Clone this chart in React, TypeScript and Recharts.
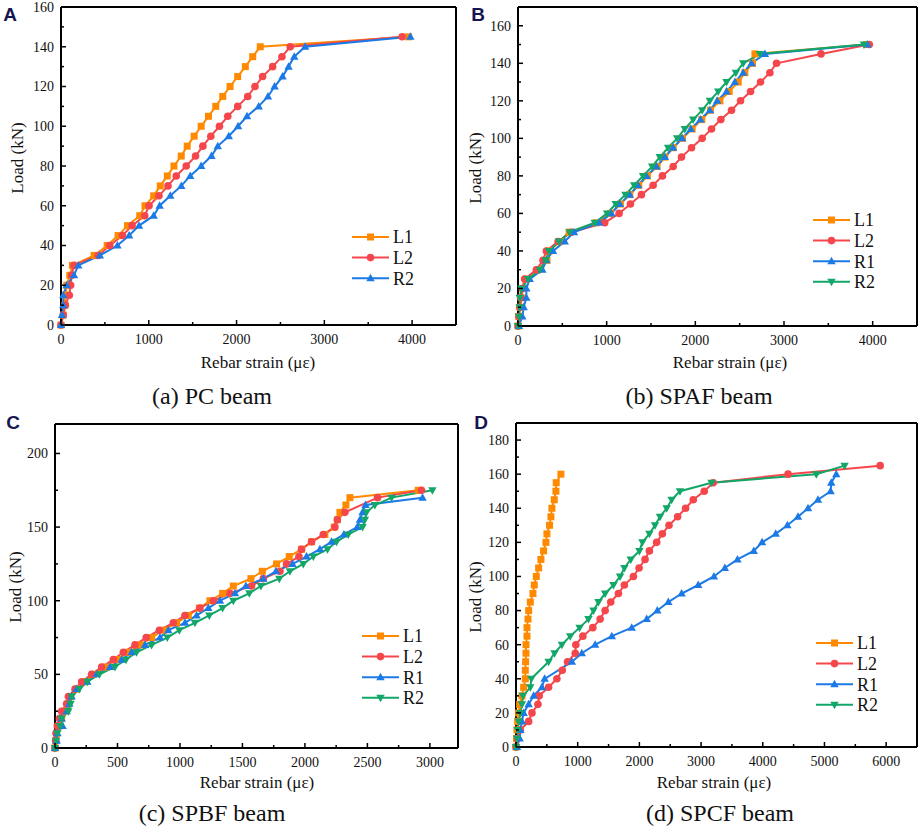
import { LineChart, Line, XAxis, YAxis, ReferenceLine, Legend } from "recharts"

const SERIF = '"Liberation Serif", "Times New Roman", serif'
const SANS = '"Liberation Sans", Arial, sans-serif'

const colors = { L1: "#ff8a00", L2: "#f5474b", R1: "#1b7ae6", R2: "#12a668" }

// (a) PC beam
const loadA = [0, 5, 10, 15, 20, 25, 30, 35, 40, 45, 50, 55, 60, 65, 70, 75, 80, 85, 90, 95, 100, 105, 110, 115, 120, 125, 130, 135, 140, 145]
const strainA_L1 = [0, 26, 45, 50, 65, 100, 130, 378, 526, 651, 757, 897, 957, 1056, 1131, 1211, 1287, 1370, 1438, 1517, 1597, 1680, 1763, 1843, 1926, 2013, 2100, 2184, 2270, 3960]
const strainA_L2 = [0, 26, 49, 95, 110, 121, 148, 424, 556, 700, 810, 954, 1003, 1116, 1219, 1313, 1427, 1533, 1616, 1707, 1805, 1900, 2013, 2127, 2210, 2297, 2411, 2517, 2611, 3886]
const strainA_R2 = [0, 11, 26, 26, 64, 148, 197, 443, 643, 776, 889, 1056, 1124, 1245, 1370, 1472, 1597, 1714, 1786, 1911, 2017, 2119, 2252, 2358, 2433, 2524, 2592, 2657, 2781, 3980]

// (b) SPAF beam
const loadB = [0, 5, 10, 15, 20, 25, 30, 35, 40, 45, 50, 55, 60, 65, 70, 75, 80, 85, 90, 95, 100, 105, 110, 115, 120, 125, 130, 135, 140, 145, 150]
const strainB_L1 = [0, 8, 26, 38, 56, 94, 226, 327, 350, 470, 576, 884, 1042, 1155, 1261, 1362, 1460, 1569, 1656, 1750, 1855, 1964, 2073, 2171, 2277, 2382, 2484, 2559, 2645, 2672, 3932]
const strainB_L2 = [0, 11, 19, 30, 49, 75, 207, 282, 320, 452, 602, 978, 1140, 1268, 1392, 1524, 1629, 1750, 1844, 1957, 2077, 2182, 2288, 2408, 2510, 2623, 2736, 2841, 2916, 3417, 3962]
const strainB_R1 = [11, 49, 64, 94, 94, 132, 275, 320, 395, 527, 632, 914, 1054, 1148, 1261, 1355, 1449, 1562, 1656, 1750, 1851, 1949, 2058, 2164, 2246, 2352, 2446, 2540, 2634, 2785, 3940]
const strainB_R2 = [0, 11, 19, 19, 38, 113, 245, 312, 350, 463, 583, 865, 1005, 1102, 1212, 1310, 1411, 1513, 1599, 1693, 1795, 1881, 1976, 2077, 2164, 2258, 2352, 2457, 2540, 2728, 3902]

// (c) SPBF beam
const loadC = [0, 5, 10, 15, 20, 25, 30, 35, 40, 45, 50, 55, 60, 65, 70, 75, 80, 85, 90, 95, 100, 105, 110, 115, 120, 125, 130, 135, 140, 145, 150, 155, 160, 165, 170, 175]
const loadC_L2 = [0, 5, 10, 15, 20, 25, 30, 35, 40, 45, 50, 55, 60, 65, 70, 75, 80, 85, 90, 95, 100, 105, 110, 115, 120, 125, 130, 135, 140, 145, 150, 155, 160, 170, 175]
const loadC_R1 = [0, 5, 10, 15, 20, 25, 30, 35, 40, 45, 50, 55, 60, 65, 70, 75, 80, 85, 90, 95, 100, 105, 110, 115, 120, 125, 130, 135, 140, 145, 150, 155, 160, 165, 170]
const strainC_L1 = [0, 8, 13, 35, 53, 80, 107, 125, 173, 240, 307, 400, 493, 587, 680, 773, 867, 973, 1067, 1155, 1240, 1341, 1427, 1568, 1659, 1773, 1875, 1973, 2053, 2160, 2235, 2261, 2280, 2328, 2360, 2907]
const strainC_L2 = [0, 5, 8, 19, 35, 53, 93, 107, 160, 213, 293, 373, 467, 547, 640, 730, 835, 947, 1040, 1160, 1267, 1400, 1573, 1667, 1800, 1853, 1952, 1973, 2053, 2147, 2240, 2259, 2320, 2581, 2933]
const strainC_R1 = [0, 13, 19, 61, 53, 93, 115, 133, 173, 259, 333, 440, 533, 613, 720, 840, 907, 1040, 1133, 1227, 1320, 1440, 1528, 1667, 1768, 1901, 2013, 2120, 2213, 2312, 2419, 2440, 2461, 2485, 2941]
const strainC_R2 = [0, 8, 19, 40, 53, 107, 125, 133, 195, 259, 355, 480, 568, 653, 773, 899, 995, 1120, 1235, 1341, 1427, 1555, 1648, 1795, 1880, 1987, 2067, 2181, 2253, 2347, 2461, 2480, 2493, 2560, 2693, 3020]

// (d) SPCF beam
const loadD_L1 = [0, 5, 10, 15, 20, 25, 30, 35, 40, 45, 50, 55, 60, 65, 70, 75, 80, 85, 90, 95, 100, 105, 110, 115, 120, 125, 130, 135, 140, 145, 150, 155, 160]
const loadD_L2 = [0, 5, 10, 15, 20, 25, 30, 35, 40, 45, 50, 55, 60, 65, 70, 75, 80, 85, 90, 95, 100, 105, 110, 115, 120, 125, 130, 135, 140, 145, 150, 155, 160, 165]
const loadD_R1 = [0, 5, 10, 15, 20, 25, 30, 35, 40, 50, 55, 60, 65, 70, 75, 80, 85, 90, 95, 100, 105, 110, 115, 120, 125, 130, 135, 140, 145, 150, 155, 160]
const loadD_R2 = [0, 5, 10, 15, 20, 25, 30, 35, 40, 50, 55, 60, 65, 70, 75, 80, 85, 90, 95, 100, 105, 110, 115, 120, 125, 130, 135, 140, 145, 150, 155, 160, 165]
const strainD_L1 = [0, 8, 16, 27, 43, 59, 97, 124, 151, 151, 156, 162, 162, 178, 178, 194, 205, 232, 275, 296, 329, 367, 404, 447, 485, 501, 544, 566, 582, 620, 647, 652, 728]
const strainD_L2 = [0, 27, 70, 205, 259, 356, 377, 528, 663, 750, 836, 960, 970, 1084, 1245, 1364, 1445, 1536, 1660, 1757, 1903, 1995, 2092, 2162, 2280, 2372, 2480, 2620, 2749, 2873, 3051, 3197, 4410, 5903]
const strainD_R1 = [16, 59, 70, 97, 124, 205, 286, 420, 464, 906, 1067, 1283, 1553, 1876, 2119, 2291, 2469, 2685, 2954, 3208, 3385, 3590, 3854, 3989, 4210, 4399, 4571, 4733, 4895, 5100, 5110, 5191]
const strainD_R2 = [0, 16, 27, 43, 70, 97, 113, 232, 248, 528, 625, 744, 879, 1030, 1175, 1256, 1337, 1445, 1580, 1687, 1757, 1860, 2000, 2049, 2162, 2253, 2334, 2442, 2523, 2658, 3170, 4868, 5326]

// axis ticks
const xMajorAB = [0, 1000, 2000, 3000, 4000]
const xMinorAB = [500, 1500, 2500, 3500, 4500]
const yMajorA = [0, 20, 40, 60, 80, 100, 120, 140, 160]
const yMinorA = [10, 30, 50, 70, 90, 110, 130, 150]
const yMajorB = [0, 20, 40, 60, 80, 100, 120, 140, 160]
const yMinorB = [10, 30, 50, 70, 90, 110, 130, 150, 170]
const xMajorC = [0, 500, 1000, 1500, 2000, 2500, 3000]
const xMinorC = [250, 750, 1250, 1750, 2250, 2750]
const yMajorC = [0, 50, 100, 150, 200]
const yMinorC = [25, 75, 125, 175]
const xMajorD = [0, 1000, 2000, 3000, 4000, 5000, 6000]
const xMinorD = [500, 1500, 2500, 3500, 4500, 5500, 6500]
const yMajorD = [0, 20, 40, 60, 80, 100, 120, 140, 160, 180]
const yMinorD = [10, 30, 50, 70, 90, 110, 130, 150, 170]

type Pt = { strain: number; load: number }
type Shape = "square" | "circle" | "up" | "down"
type Series = { name: string; color: string; shape: Shape; data: Pt[] }

const pts = (strain: number[], load: number[]): Pt[] => strain.map((s, i) => ({ strain: s, load: load[i] }))

function Marker({ cx, cy, shape, color }: { cx: number; cy: number; shape: Shape; color: string }) {
  if (cx == null || cy == null) return null
  if (shape === "square") return <rect x={cx - 3.5} y={cy - 3.5} width={7} height={7} fill={color} />
  if (shape === "circle") return <circle cx={cx} cy={cy} r={3.8} fill={color} />
  if (shape === "up") return <polygon points={`${cx},${cy - 4.5} ${cx + 4.2},${cy + 3} ${cx - 4.2},${cy + 3}`} fill={color} />
  return <polygon points={`${cx},${cy + 4.5} ${cx + 4.2},${cy - 3} ${cx - 4.2},${cy - 3}`} fill={color} />
}

function LegendBox({ series }: { series: Series[] }) {
  const gap = 20.6
  return (
    <svg width={80} height={series.length * gap} style={{ display: "block" }}>
      {series.map((s, i) => {
        const y = 10 + i * gap
        return (
          <g key={s.name}>
            <line x1={0} x2={37} y1={y} y2={y} stroke={s.color} strokeWidth={2} />
            <Marker cx={18.5} cy={y} shape={s.shape} color={s.color} />
            <text x={41} y={y} dy="0.36em" fontFamily={SERIF} fontSize={18} fill="#111">{s.name}</text>
          </g>
        )
      })}
    </svg>
  )
}

type Rect = { x: number; y: number; w: number; h: number }
type Box = { l: number; t: number; r: number; b: number }

function Panel(props: {
  region: Rect; box: Box; xMax: number; yMax: number
  xMajor: number[]; xMinor: number[]; yMajor: number[]; yMinor: number[]
  series: Series[]; legendAt: { x: number; y: number }
}) {
  const { region, box, xMax, yMax, xMajor, xMinor, yMajor, yMinor, series, legendAt } = props
  // axes are 1px thick boxes, so the margins leave that pixel out
  const margin = {
    left: box.l - region.x - 1,
    top: box.t - region.y,
    right: region.x + region.w - box.r,
    bottom: region.y + region.h - box.b - 1,
  }
  const xTicks = [...xMajor, ...xMinor].sort((a, b) => a - b)
  const yTicks = [...yMajor, ...yMinor].sort((a, b) => a - b)

  const XTick = (p: any) => {
    const major = xMajor.includes(p.payload.value)
    return (
      <g>
        <line x1={p.x} x2={p.x} y1={p.y} y2={p.y - (major ? 5 : 3)} stroke="#000" strokeWidth={1.5} />
        {major && (
          <text x={p.x} y={p.y + 14.5} dy="0.35em" textAnchor="middle" fontFamily={SERIF} fontSize={14} fill="#111">{p.payload.value}</text>
        )}
      </g>
    )
  }
  const YTick = (p: any) => {
    const major = yMajor.includes(p.payload.value)
    return (
      <g>
        <line x1={p.x} x2={p.x + (major ? 5 : 3)} y1={p.y} y2={p.y} stroke="#000" strokeWidth={1.5} />
        {major && (
          <text x={p.x - 7} y={p.y} dy="0.35em" textAnchor="end" fontFamily={SERIF} fontSize={14} fill="#111">{p.payload.value}</text>
        )}
      </g>
    )
  }

  return (
    <div style={{ position: "absolute", left: region.x, top: region.y }}>
      <LineChart width={region.w} height={region.h} margin={margin}>
        <XAxis type="number" dataKey="strain" domain={[0, xMax]} ticks={xTicks} interval={0} height={1}
          tickSize={0} tickMargin={0} tickLine={false} tick={XTick} axisLine={{ stroke: "#000", strokeWidth: 2 }} />
        <YAxis type="number" domain={[0, yMax]} ticks={yTicks} interval={0} width={1}
          tickSize={0} tickMargin={0} tickLine={false} tick={YTick} axisLine={{ stroke: "#000", strokeWidth: 2 }} />
        <ReferenceLine y={yMax} stroke="#000" strokeWidth={2} />
        <ReferenceLine x={xMax} stroke="#000" strokeWidth={2} />
        {series.map((s) => (
          <Line key={s.name} data={s.data} dataKey="load" name={s.name} stroke={s.color} strokeWidth={2}
            isAnimationActive={false} activeDot={false}
            dot={(d: any) => <Marker key={`${s.name}-${d.index}`} cx={d.cx} cy={d.cy} shape={s.shape} color={s.color} />} />
        ))}
        <Legend layout="vertical" align="center" verticalAlign="middle"
          wrapperStyle={{ left: legendAt.x - region.x, top: legendAt.y - region.y, width: 80 }}
          content={() => <LegendBox series={series} />} />
      </LineChart>
    </div>
  )
}

function Txt({ x, y, size, rot = 0, children, font = SERIF, weight = 400, color = "#111" }: any) {
  return (
    <div style={{
      position: "absolute", left: x, top: y, transform: `translate(-50%, -50%) rotate(${rot}deg)`,
      fontFamily: font, fontSize: size, fontWeight: weight, color, whiteSpace: "nowrap", lineHeight: 1,
    }}>{children}</div>
  )
}

export default function App() {
  const seriesA: Series[] = [
    { name: "L1", color: colors.L1, shape: "square", data: pts(strainA_L1, loadA) },
    { name: "L2", color: colors.L2, shape: "circle", data: pts(strainA_L2, loadA) },
    { name: "R2", color: colors.R1, shape: "up", data: pts(strainA_R2, loadA) },
  ]
  const seriesB: Series[] = [
    { name: "L1", color: colors.L1, shape: "square", data: pts(strainB_L1, loadB) },
    { name: "L2", color: colors.L2, shape: "circle", data: pts(strainB_L2, loadB) },
    { name: "R1", color: colors.R1, shape: "up", data: pts(strainB_R1, loadB) },
    { name: "R2", color: colors.R2, shape: "down", data: pts(strainB_R2, loadB) },
  ]
  const seriesC: Series[] = [
    { name: "L1", color: colors.L1, shape: "square", data: pts(strainC_L1, loadC) },
    { name: "L2", color: colors.L2, shape: "circle", data: pts(strainC_L2, loadC_L2) },
    { name: "R1", color: colors.R1, shape: "up", data: pts(strainC_R1, loadC_R1) },
    { name: "R2", color: colors.R2, shape: "down", data: pts(strainC_R2, loadC) },
  ]
  const seriesD: Series[] = [
    { name: "L1", color: colors.L1, shape: "square", data: pts(strainD_L1, loadD_L1) },
    { name: "L2", color: colors.L2, shape: "circle", data: pts(strainD_L2, loadD_L2) },
    { name: "R1", color: colors.R1, shape: "up", data: pts(strainD_R1, loadD_R1) },
    { name: "R2", color: colors.R2, shape: "down", data: pts(strainD_R2, loadD_R2) },
  ]

  return (
    <div style={{ position: "absolute", left: 0, top: 0, width: 920, height: 829, background: "#fff", overflow: "hidden" }}>
      <Panel region={{ x: 0, y: 0, w: 460, h: 415 }} box={{ l: 61, t: 7, r: 456, b: 325 }} xMax={4500} yMax={160}
        xMajor={xMajorAB} xMinor={xMinorAB} yMajor={yMajorA} yMinor={yMinorA} series={seriesA} legendAt={{ x: 352, y: 227 }} />
      <Panel region={{ x: 460, y: 0, w: 460, h: 415 }} box={{ l: 518, t: 7, r: 917, b: 326 }} xMax={4500} yMax={170}
        xMajor={xMajorAB} xMinor={xMinorAB} yMajor={yMajorB} yMinor={yMinorB} series={seriesB} legendAt={{ x: 813, y: 210 }} />
      <Panel region={{ x: 0, y: 415, w: 460, h: 414 }} box={{ l: 55, t: 424, r: 458, b: 748 }} xMax={3225} yMax={220}
        xMajor={xMajorC} xMinor={xMinorC} yMajor={yMajorC} yMinor={yMinorC} series={seriesC} legendAt={{ x: 362, y: 626 }} />
      <Panel region={{ x: 460, y: 415, w: 460, h: 414 }} box={{ l: 516, t: 423, r: 917, b: 747 }} xMax={6500} yMax={190}
        xMajor={xMajorD} xMinor={xMinorD} yMajor={yMajorD} yMinor={yMinorD} series={seriesD} legendAt={{ x: 816, y: 633 }} />

      <Txt x={10} y={14} size={19} font={SANS} weight={700} color="#161650">A</Txt>
      <Txt x={478} y={14} size={19} font={SANS} weight={700} color="#161650">B</Txt>
      <Txt x={13} y={422} size={19} font={SANS} weight={700} color="#161650">C</Txt>
      <Txt x={481} y={422} size={19} font={SANS} weight={700} color="#161650">D</Txt>

      <Txt x={17} y={158} size={17} rot={-90}>Load (kN)</Txt>
      <Txt x={475} y={168} size={17} rot={-90}>Load (kN)</Txt>
      <Txt x={15} y={587} size={17} rot={-90}>Load (kN)</Txt>
      <Txt x={475} y={597} size={17} rot={-90}>Load (kN)</Txt>

      <Txt x={258} y={362} size={17}>Rebar strain (με)</Txt>
      <Txt x={730} y={362} size={17}>Rebar strain (με)</Txt>
      <Txt x={257} y={782} size={17}>Rebar strain (με)</Txt>
      <Txt x={714} y={782} size={17}>Rebar strain (με)</Txt>

      <Txt x={212} y={396} size={24}>(a) PC beam</Txt>
      <Txt x={699} y={396} size={24}>(b) SPAF beam</Txt>
      <Txt x={212} y={813} size={24}>(c) SPBF beam</Txt>
      <Txt x={720} y={813} size={24}>(d) SPCF beam</Txt>
    </div>
  )
}
